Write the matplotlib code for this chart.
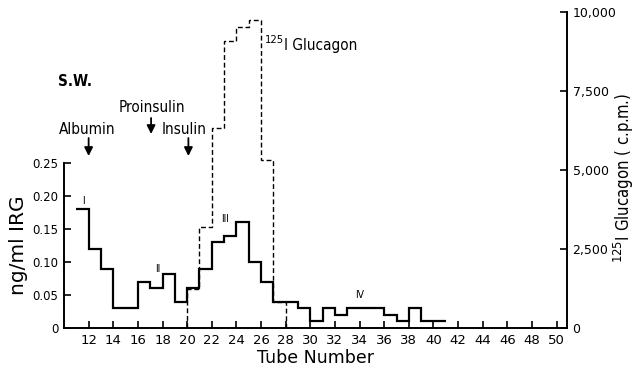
import matplotlib
matplotlib.use("Agg")
import matplotlib.pyplot as plt

plt.rcParams['font.family'] = ['DejaVu Sans']
plt.rcParams['mathtext.fontset'] = 'dejavusans'

# IRG (solid step), values per tube interval
irg_edges = [11, 12, 13, 14, 16, 17, 18, 19, 20, 21, 22, 23, 24, 25, 26, 27, 29, 30, 31, 32, 33, 36, 37, 38, 39, 41]
irg_values = [0.18, 0.12, 0.09, 0.03, 0.07, 0.06, 0.082, 0.04, 0.06, 0.09, 0.13, 0.14, 0.16, 0.10, 0.07,
              0.04, 0.03, 0.01, 0.03, 0.02, 0.03, 0.02, 0.01, 0.03, 0.01]

# 125I Glucagon (dashed step), c.p.m.
glu_edges = [20, 21, 22, 23, 24, 25, 26, 27, 28]
glu_values = [1250, 3200, 6350, 9100, 9550, 9750, 5330, 830]

xticks = list(range(12, 51, 2))
left_ticks = [0, 0.05, 0.10, 0.15, 0.20, 0.25]
left_labels = ['0', '0.05', '0.10', '0.15', '0.20', '0.25']
right_ticks = [0, 2500, 5000, 7500, 10000]
right_labels = ['0', '2,500', '5,000', '7,500', '10,000']

fig = plt.figure(figsize=(6.36, 3.74), dpi=100)
ax = fig.add_axes([64/636, 46/374, (567-64)/636, (328-12.5)/374])
ax2 = ax.twinx()

ax.set_xlim(10, 50.84)
ax.set_ylim(0, 0.25 * (328 - 12.5) / 165)
ax2.set_ylim(0, 10000)

ax2.stairs(glu_values, glu_edges, baseline=0, color='black', lw=1.0, linestyle=(0, (3.5, 2)))
ax.stairs(irg_values, irg_edges, baseline=None, color='black', lw=1.6)

ax.spines['top'].set_visible(False)
ax2.spines['top'].set_visible(False)
ax.spines['right'].set_visible(False)
ax2.spines['left'].set_visible(False)
ax2.spines['bottom'].set_visible(False)
ax.spines['left'].set_bounds(0, 0.25)
for sp in [ax.spines['left'], ax.spines['bottom'], ax2.spines['right']]:
    sp.set_linewidth(1.4)

ax.set_xticks(xticks)
ax.set_xticklabels([str(t) for t in xticks])
ax.set_yticks(left_ticks)
ax.set_yticklabels(left_labels)
ax2.set_yticks(right_ticks)
ax2.set_yticklabels(right_labels)
ax.tick_params(axis='both', direction='in', length=5, width=1.2, pad=4)
ax2.tick_params(axis='y', direction='in', length=5, width=1.2, pad=4)
for lab in ax.get_yticklabels():
    lab.set_fontsize(8.5)
for lab in ax2.get_yticklabels():
    lab.set_fontsize(9)
for lab in ax.get_xticklabels():
    lab.set_fontsize(9.5)

ax.set_xlabel('Tube Number', fontsize=12.5, labelpad=2)
ax.set_ylabel('ng/ml IRG', fontsize=14.5)
ax.yaxis.set_label_coords(-0.072, 0.263)
ax2.set_ylabel(r'$^{125}$I Glucagon ( c.p.m.)', fontsize=12, fontstretch='condensed')
ax2.yaxis.set_label_coords(1.09, 0.475)

def ly(py):
    return (328 - py) / 660.0

def tx(px):
    return 20 + (px - 187.1) / 12.32

tkw = dict(fontsize=11, ha='center', va='center', clip_on=False, fontstretch='condensed')
ax.text(tx(75), ly(82), 'S.W.', fontweight='bold', **tkw)
ax.text(tx(151.5), ly(107), 'Proinsulin', **tkw)
ax.text(tx(87), ly(130), 'Albumin', **tkw)
ax.text(tx(184), ly(130), 'Insulin', **tkw)

akw = dict(arrowstyle='-|>,head_length=0.5,head_width=0.25', color='black', lw=1.3, shrinkA=0, shrinkB=0)
ax.annotate('', xy=(12, ly(156)), xytext=(12, ly(138)), arrowprops=akw)
ax.annotate('', xy=(17.07, ly(134)), xytext=(17.07, ly(118)), arrowprops=akw)
ax.annotate('', xy=(20.1, ly(156)), xytext=(20.1, ly(138)), arrowprops=akw)

ax.text(tx(274), ly(40), '125', fontsize=8, ha='center', va='center', fontstretch='condensed')
ax.text(tx(284), ly(46), 'I Glucagon', fontsize=11, ha='left', va='center', fontstretch='condensed')

rkw = dict(fontsize=7.5, ha='center', va='center', fontstretch='condensed')
ax.text(11.6, 0.192, 'I', **rkw)
ax.text(17.6, 0.09, 'II', **rkw)
ax.text(23.1, 0.165, 'III', **rkw)
ax.text(34.0, 0.05, 'IV', **rkw)

fig.savefig('out.png', dpi=100)
